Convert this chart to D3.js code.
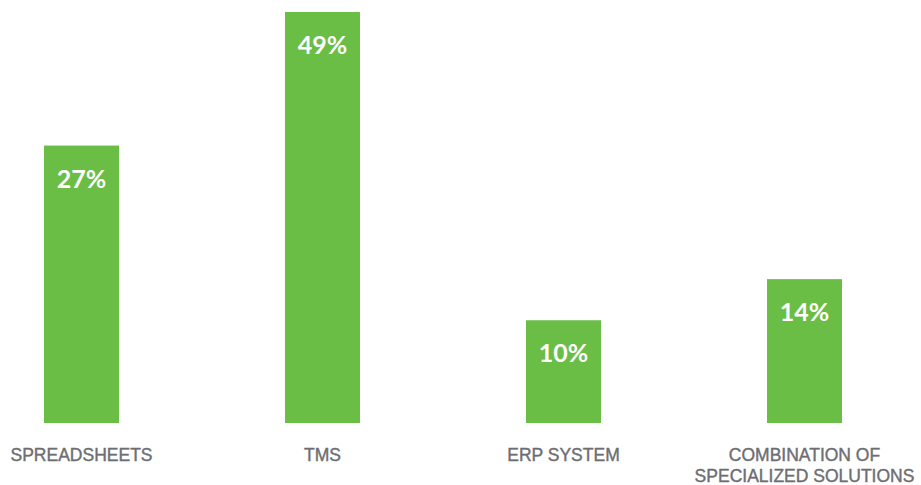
<!DOCTYPE html>
<html>
<head>
<meta charset="utf-8">
<script src="https://cdn.jsdelivr.net/npm/d3@7"></script>
<style>
    body { margin: 0; background: #fff; }
    .valLabel { font-family: "Lato", sans-serif; font-weight: 700; font-size: 25px; fill: #fff; }
    .catLabel { font-family: "Liberation Sans", sans-serif; font-size: 17.5px; fill: #6d6e72; stroke: #6d6e72; stroke-width: 0.4px; }
</style>
</head>
<body>
<svg class="barChart" width="921" height="485"></svg>
<script>
var categories = [["SPREADSHEETS"], ["TMS"], ["ERP SYSTEM"], ["COMBINATION OF", "SPECIALIZED SOLUTIONS"]];
var values = [27, 49, 10, 14];
var valueLabels = ["27%", "49%", "10%", "14%"];

var meta = {};
meta['barColor'] = '#6abd45';

function renderBarChart()
{
    var svg = d3.select(".barChart");
    var keys = categories.map((c, i) => i);

    const xScale = d3.scaleBand()
        .range([44, 842])
        .domain(keys)
        .paddingInner(166 / 241)
        .paddingOuter(0);

    // tallest bar runs off the top in the original, so the scale is clamped
    const yScale = d3.scaleLinear()
        .range([423, 12])
        .domain([0, 40])
        .clamp(true);

    var state = keys.map(i => ({key: i, value: values[i], label: valueLabels[i], cat: categories[i]}));

    svg.selectAll('rect')
        .data(state)
        .enter()
        .append('rect')
        .attr('x', d => xScale(d.key))
        .attr('y', d => yScale(d.value))
        .attr('width', xScale.bandwidth())
        .attr('height', d => yScale(0) - yScale(d.value))
        .attr('fill', meta['barColor']);

    svg.selectAll('.valLabel')
        .data(state)
        .enter()
        .append('text')
        .attr('class', 'valLabel')
        .attr('x', d => xScale(d.key) + xScale.bandwidth() / 2)
        .attr('y', d => yScale(d.value) + 42)
        .attr('text-anchor', 'middle')
        .text(d => d.label);

    var cats = svg.selectAll('.catLabel')
        .data(state)
        .enter()
        .append('text')
        .attr('class', 'catLabel')
        .attr('text-anchor', 'middle')
        .attr('transform', d => `translate(${xScale(d.key) + xScale.bandwidth() / 2}, 461)`);

    cats.selectAll('tspan')
        .data(d => d.cat)
        .enter()
        .append('tspan')
        .attr('x', 0)
        .attr('dy', (d, i) => i === 0 ? 0 : 20.5)
        .text(d => d);
}

renderBarChart();
</script>
</body>
</html>
